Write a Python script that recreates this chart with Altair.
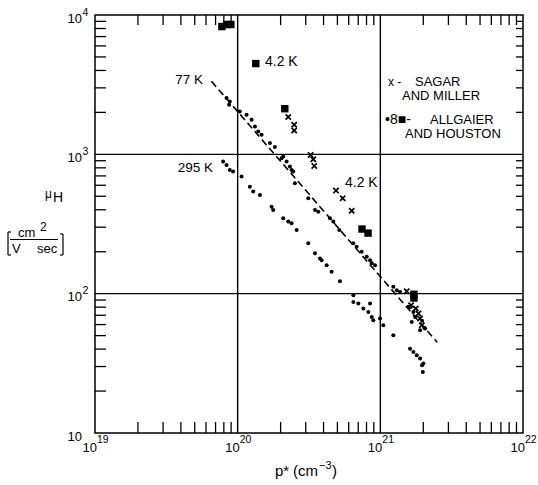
import altair as alt
import pandas as pd

FONT = "Liberation Sans"
W, H = 428, 418

p_77 = [8.36e19, 8.81e19, 8.71e19, 1.035e20, 1.154e20, 1.252e20, 1.321e20, 1.393e20, 1.471e20, 1.683e20,
        1.824e20, 2.086e20, 2.203e20, 2.324e20, 2.45e20, 2.032e20, 2.388e20, 2.518e20, 3.126e20, 3.483e20,
        3.673e20, 4.436e20, 4.677e20, 5.155e20, 6.46e20, 6.82e20, 7.40e20, 8.03e20, 8.47e20, 9.18e20,
        1.233e21, 1.303e21, 1.374e21, 1.572e21, 1.705e21, 1.754e21, 1.660e21, 1.900e21, 2.06e21, 1.963e21,
        1.615e21, 2.03e21, 8.71e20]
mu_77 = [2535, 2399, 2270, 2032, 1923, 1771, 1585, 1459, 1380, 1205,
         1127, 964, 888, 817, 752, 939, 773, 621, 484, 399,
         387, 348, 329, 286, 230, 217, 200, 184, 174, 160,
         112, 106, 103, 80.4, 74.0, 68.1, 62.7, 54.6, 56.2, 63.8,
         80, 56.9, 165]
p_295 = [7.91e19, 8.36e19, 8.81e19, 9.29e19, 1.065e20, 1.218e20, 1.285e20, 1.432e20, 1.729e20, 1.774e20,
         2.086e20, 2.262e20, 2.388e20, 2.589e20, 3.126e20, 3.483e20, 3.776e20, 3.88e20, 4.207e20, 4.56e20,
         5.21e20, 6.47e20, 6.47e20, 7.01e20, 7.60e20, 8.24e20, 8.71e20, 8.47e20, 8.93e20, 9.95e20,
         1.05e21, 1.233e21, 1.615e21, 1.705e21, 1.80e21, 1.90e21, 2.004e21, 1.985e21, 1.96e21]
mu_295 = [888, 840, 773, 752, 692, 586, 540, 511, 421, 399,
          348, 329, 320, 286, 230, 195, 179, 174, 160, 143.5,
          123, 97.5, 87.3, 84.9, 78.3, 74.0, 68.1, 84.9, 64.4, 66.3,
          59.3, 50.3, 40.3, 38.1, 36.1, 34.2, 31.5, 27.4, 30.6]
p_sm = [2.262e20, 2.491e20, 2.491e20, 3.249e20, 3.388e20, 3.443e20, 4.887e20, 5.445e20, 6.30e20,
        1.532e21, 1.642e21, 1.772e21, 1.849e21, 1.90e21, 1.953e21]
mu_sm = [1852, 1631, 1483, 991, 923, 826, 549, 484, 394,
         104, 82.6, 78.3, 72.1, 66.3, 59.3]
p_ah = [7.75e19, 8.40e19, 8.96e19, 1.34e20, 2.14e20, 7.44e20, 8.2e20, 1.72e21, 1.72e21]
mu_ah = [8260, 8550, 8550, 4480, 2125, 291, 272, 99, 93]
p_fit = [6.56e19, 2.50e21]
mu_fit = [3340, 44.8]

x_major = [1e19, 1e20, 1e21, 1e22]
x_exp = ["19", "20", "21", "22"]
y_major = [10, 100, 1000, 10000]
y_exp = ["", "2", "3", "4"]
x_grid = [1e20, 1e21]
y_grid = [100, 1000]
x_minor = [2e19, 3e19, 4e19, 5e19, 6e19, 7e19, 8e19, 9e19,
           2e20, 3e20, 4e20, 5e20, 6e20, 7e20, 8e20, 9e20,
           2e21, 3e21, 4e21, 5e21, 6e21, 7e21, 8e21, 9e21]
y_minor = [20, 30, 40, 50, 60, 70, 80, 90,
           200, 300, 400, 500, 600, 700, 800, 900,
           2000, 3000, 4000, 5000, 6000, 7000, 8000, 9000]

xs = alt.Scale(type="log", domain=[1e19, 1e22], nice=False)
ys = alt.Scale(type="log", domain=[10, 1e4], nice=False)


def X(f):
    return alt.X(f, type="quantitative", scale=xs, axis=None)


def Y(f):
    return alt.Y(f, type="quantitative", scale=ys, axis=None)


one = pd.DataFrame({"a": [0]})

dots = alt.Chart(pd.DataFrame({"p": p_77 + p_295, "mu": mu_77 + mu_295})).mark_point(
    shape="circle", filled=True, size=16, color="black", opacity=1
).encode(x=X("p"), y=Y("mu"))
crosses = alt.Chart(pd.DataFrame({"p": p_sm, "mu": mu_sm})).mark_point(
    shape="M-1,-1L1,1M-1,1L1,-1", filled=False, size=28, strokeWidth=1.7, color="black", opacity=1
).encode(x=X("p"), y=Y("mu"))
squares = alt.Chart(pd.DataFrame({"p": p_ah, "mu": mu_ah})).mark_square(
    size=55, filled=True, color="black", opacity=1
).encode(x=X("p"), y=Y("mu"))
fit = alt.Chart(pd.DataFrame({"p": p_fit, "mu": mu_fit})).mark_line(
    color="black", strokeWidth=1.6, strokeDash=[7, 4]
).encode(x=X("p"), y=Y("mu"))
gridx = alt.Chart(pd.DataFrame({"g": x_grid})).mark_rule(color="black", strokeWidth=1.4).encode(x=X("g"))
gridy = alt.Chart(pd.DataFrame({"g": y_grid})).mark_rule(color="black", strokeWidth=1.4).encode(y=Y("g"))

# inward minor ticks drawn as stroked line symbols (point marks)
tb = pd.DataFrame({"tb": x_minor})
tl = pd.DataFrame({"tl": y_minor})
tick_b = alt.Chart(tb).mark_point(shape="M0,-1L0,1", filled=False, size=121, strokeWidth=1.3,
                                  color="black", opacity=1).encode(x=X("tb"), y=alt.value(H - 5.5))
tick_t = alt.Chart(tb).mark_point(shape="M0,-1L0,1", filled=False, size=100, strokeWidth=1.3,
                                  color="black", opacity=1).encode(x=X("tb"), y=alt.value(5))
tick_l = alt.Chart(tl).mark_point(shape="M-1,0L1,0", filled=False, size=121, strokeWidth=1.3,
                                  color="black", opacity=1).encode(y=Y("tl"), x=alt.value(5.5))
tick_r = alt.Chart(tl).mark_point(shape="M-1,0L1,0", filled=False, size=49, strokeWidth=1.3,
                                  color="black", opacity=1).encode(y=Y("tl"), x=alt.value(W - 3.5))

xl = pd.DataFrame({"v": x_major, "e": x_exp})
yl = pd.DataFrame({"v": y_major, "e": y_exp})
xlab10 = alt.Chart(xl).mark_text(text="10", align="right", baseline="alphabetic", dx=2,
                                 fontSize=13, font=FONT, color="black").encode(x=X("v"), y=alt.value(437))
xlabe = alt.Chart(xl).mark_text(align="left", baseline="alphabetic", dx=2,
                                fontSize=10.5, font=FONT, color="black").encode(
    x=X("v"), y=alt.value(428), text="e:N")
ylab10 = alt.Chart(yl).mark_text(text="10", align="right", baseline="alphabetic", dy=7.5,
                                 fontSize=13, font=FONT, color="black").encode(y=Y("v"), x=alt.value(-13))
ylabe = alt.Chart(yl).mark_text(align="left", baseline="alphabetic", dy=0.5,
                                fontSize=10.5, font=FONT, color="black").encode(
    y=Y("v"), x=alt.value(-12.5), text="e:N")


def label(txt, x, y, size=13.5, align="left"):
    return alt.Chart(one).mark_text(text=txt, align=align, baseline="alphabetic", fontSize=size,
                                    font=FONT, color="black").encode(x=alt.value(x), y=alt.value(y))


def seg(x1, y1, x2, y2, w=1.2):
    return alt.Chart(one).mark_rule(color="black", strokeWidth=w).encode(
        x=alt.value(x1), y=alt.value(y1), x2=alt.value(x2), y2=alt.value(y2))


texts = [
    label("77 K", 108, 68.5, align="right"),
    label("4.2 K", 170, 51, size=14),
    label("295 K", 118, 157, align="right"),
    label("4.2 K", 250, 172, size=14),
    label("x -", 293, 71, size=12),
    label("SAGAR", 320, 71, size=13),
    label("AND MILLER", 307, 85, size=13),
    label("•8■-", 290, 109, size=14),
    label("ALLGAIER", 335, 109, size=13),
    label("AND HOUSTON", 310, 123, size=13),
    label("μ", -50, 183, size=12),
    label("H", -42, 187, size=14),
    label("cm", -77, 222, size=13),
    label("2", -55, 216, size=12),
    label("V", -83, 238, size=13),
    label("sec", -58, 238, size=13),
    seg(-85, 224.5, -37, 224.5),
    seg(-87, 217, -87, 240), seg(-87, 217, -84, 217), seg(-87, 240, -84, 240),
    seg(-32, 219, -32, 240), seg(-35, 219, -32, 219), seg(-35, 240, -32, 240),
    label("p*", 180, 461, size=15),
    label("(cm", 198, 461, size=15),
    label("−3", 224, 454, size=11),
    label(")", 237, 461, size=15),
]

chart = alt.layer(
    gridx, gridy, tick_b, tick_t, tick_l, tick_r, fit, dots, crosses, squares,
    xlab10, xlabe, ylab10, ylabe, *texts,
).properties(
    width=W, height=H,
    padding={"left": 95, "top": 15, "right": 15, "bottom": 52},
    autosize=alt.AutoSizeParams(type="none"),
    background="white",
).configure_view(stroke="black", strokeWidth=1.5)

chart.save("out.html", embed_options={"renderer": "svg", "actions": False})
